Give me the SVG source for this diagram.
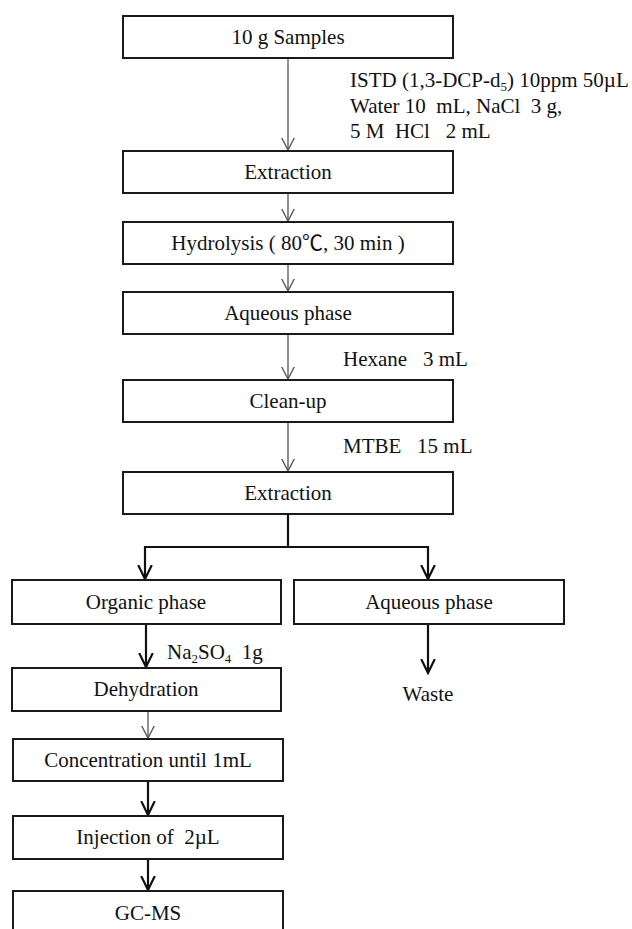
<svg xmlns="http://www.w3.org/2000/svg" width="632" height="929" viewBox="0 0 632 929">
<style>
  .box { fill: #ffffff; stroke: #1a1a1a; stroke-width: 2; }
  .lbl { font-family: "Liberation Serif", "Noto Sans CJK SC", serif; font-size: 21px; fill: #111; text-anchor: middle; }
  .note { font-family: "Liberation Serif", "Noto Sans CJK SC", serif; font-size: 21px; fill: #111; }
  .thin { stroke: #555; stroke-width: 1.3; fill: none; }
  .thick { stroke: #111; stroke-width: 2.2; fill: none; }
</style>
<defs>
  <marker id="ahThin" viewBox="0 0 14 14" refX="12.5" refY="7" markerWidth="14" markerHeight="14" markerUnits="userSpaceOnUse" orient="auto">
    <path d="M0,0.5 L12.5,7 L0,13.5" fill="none" stroke="#555" stroke-width="1.3"/>
  </marker>
  <marker id="ahThick" viewBox="0 0 16 16" refX="14" refY="8" markerWidth="16" markerHeight="16" markerUnits="userSpaceOnUse" orient="auto">
    <path d="M0,1.2 L14,8 L0,14.8" fill="none" stroke="#111" stroke-width="2.2"/>
  </marker>
</defs>
<rect width="632" height="929" fill="#ffffff"/>

<g id="connectors">
  <line class="thin" x1="288" y1="58" x2="288" y2="150" marker-end="url(#ahThin)"/>
  <line class="thin" x1="288" y1="193" x2="288" y2="221" marker-end="url(#ahThin)"/>
  <line class="thin" x1="288" y1="264" x2="288" y2="291" marker-end="url(#ahThin)"/>
  <line class="thin" x1="288" y1="334" x2="288" y2="379" marker-end="url(#ahThin)"/>
  <line class="thin" x1="288" y1="422" x2="288" y2="471" marker-end="url(#ahThin)"/>
  <polyline class="thick" points="288,514 288,547"/>
  <polyline class="thick" points="145,547 428,547"/>
  <line class="thick" x1="145" y1="546" x2="145" y2="579" marker-end="url(#ahThick)"/>
  <line class="thick" x1="428" y1="546" x2="428" y2="579" marker-end="url(#ahThick)"/>
  <line class="thick" x1="146" y1="624" x2="146" y2="667" marker-end="url(#ahThick)"/>
  <line class="thin" x1="148" y1="711" x2="148" y2="738" marker-end="url(#ahThin)"/>
  <line class="thick" x1="148" y1="781" x2="148" y2="815" marker-end="url(#ahThick)"/>
  <line class="thick" x1="148" y1="859" x2="148" y2="890" marker-end="url(#ahThick)"/>
  <line class="thick" x1="428" y1="624" x2="428" y2="673" marker-end="url(#ahThick)"/>
</g>

<g id="samples">
  <rect class="box" x="123" y="16" width="330" height="42"/>
  <text class="lbl" x="288" y="44">10 g Samples</text>
</g>
<g id="reagents1">
  <text class="note" x="350" y="87">ISTD (1,3-DCP-d<tspan font-size="13" dy="4">5</tspan><tspan dy="-4">) 10ppm 50µL</tspan></text>
  <text class="note" x="350" y="113" xml:space="preserve">Water 10  mL, NaCl  3 g,</text>
  <text class="note" x="350" y="138" xml:space="preserve">5 M  HCl   2 mL</text>
</g>
<g id="extraction1">
  <rect class="box" x="123" y="151" width="330" height="42"/>
  <text class="lbl" x="288" y="179">Extraction</text>
</g>
<g id="hydrolysis">
  <rect class="box" x="123" y="222" width="330" height="42"/>
  <text class="lbl" x="288" y="250">Hydrolysis ( 80℃, 30 min )</text>
</g>
<g id="aqueous1">
  <rect class="box" x="123" y="292" width="330" height="42"/>
  <text class="lbl" x="288" y="320">Aqueous phase</text>
</g>
<g id="hexane">
  <text class="note" x="343" y="366" xml:space="preserve">Hexane   3 mL</text>
</g>
<g id="cleanup">
  <rect class="box" x="123" y="380" width="330" height="42"/>
  <text class="lbl" x="288" y="408">Clean-up</text>
</g>
<g id="mtbe">
  <text class="note" x="343" y="453" xml:space="preserve">MTBE   15 mL</text>
</g>
<g id="extraction2">
  <rect class="box" x="123" y="472" width="330" height="42"/>
  <text class="lbl" x="288" y="500">Extraction</text>
</g>
<g id="organic">
  <rect class="box" x="12" y="580" width="269" height="44"/>
  <text class="lbl" x="146" y="609">Organic phase</text>
</g>
<g id="aqueous2">
  <rect class="box" x="294" y="580" width="270" height="44"/>
  <text class="lbl" x="429" y="609">Aqueous phase</text>
</g>
<g id="na2so4">
  <text class="note" x="167" y="659">Na<tspan font-size="13" dy="4">2</tspan><tspan dy="-4">SO</tspan><tspan font-size="13" dy="4">4</tspan><tspan dy="-4" xml:space="preserve">  1g</tspan></text>
</g>
<g id="waste">
  <text class="lbl" x="428" y="701">Waste</text>
</g>
<g id="dehydration">
  <rect class="box" x="12" y="668" width="269" height="43"/>
  <text class="lbl" x="146" y="696">Dehydration</text>
</g>
<g id="concentration">
  <rect class="box" x="13" y="739" width="270" height="42"/>
  <text class="lbl" x="148" y="767">Concentration until  1mL</text>
</g>
<g id="injection">
  <rect class="box" x="13" y="816" width="270" height="43"/>
  <text class="lbl" x="148" y="844" xml:space="preserve">Injection of  2µL</text>
</g>
<g id="gcms">
  <rect class="box" x="13" y="891" width="270" height="50"/>
  <text class="lbl" x="148" y="920">GC-MS</text>
</g>
</svg>
